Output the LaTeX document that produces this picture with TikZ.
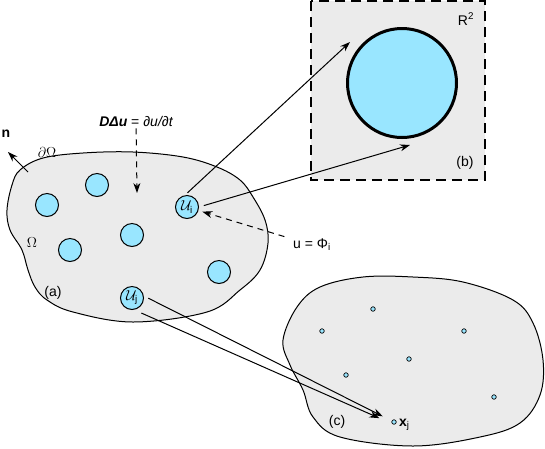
\documentclass[tikz,border=0pt]{standalone}
\usepackage{fontspec}
\setmainfont{Liberation Sans}
\usepackage{amsmath}
\usetikzlibrary{arrows.meta}
\definecolor{regiongray}{RGB}{235,235,235}
\definecolor{cellblue}{RGB}{153,230,255}
\tikzstyle{region} = [draw=black, line width=1pt, fill=regiongray]
\tikzstyle{cell} = [circle, minimum size=23pt, inner sep=0pt, draw=black,
line width=1pt, fill=cellblue, font=\fontsize{14}{16}\selectfont]
\tikzstyle{spot} = [circle, minimum size=4.5pt, inner sep=0pt, draw=black,
line width=0.7pt, fill=cellblue]
\tikzstyle{txt} = [inner sep=1pt, font=\fontsize{14}{16}\selectfont]
\tikzstyle{arrow} = [line width=1pt,->,>={Stealth[length=10pt,width=7pt]}]
\tikzstyle{dasharrow} = [arrow, dash pattern=on 6pt off 5pt]

\begin{document}
\begin{tikzpicture}[x=1pt,y=-1pt]
  \useasboundingbox (0,0) rectangle (545,448);
  % domain (a)
  \draw[region] plot[smooth cycle, tension=0.6] coordinates {
    (20,170) (43,158) (83,153) (133,152) (183,157) (217,167) (240,180)
    (253,197) (265,220) (268,243) (260,270) (240,290) (207,312) (133,322)
    (73,312) (47,300) (35,287) (28,270) (22,250) (10,230) (7,210) (12,185)};
  % domain (c)
  \draw[region] plot[smooth cycle, tension=0.6] coordinates {
    (297,307) (320,287) (363,277) (413,277) (463,282) (513,300) (533,323)
    (543,360) (540,395) (520,423) (480,437) (413,446) (340,437) (313,417)
    (303,390) (290,365) (283,340)};
  % box (b)
  \draw[line width=1.3pt, dash pattern=on 10pt off 6pt, fill=regiongray]
    (311,1) rectangle (485,180);
  \node (big) [circle, minimum size=109pt, draw, line width=3pt,
    fill=cellblue] at (402,83) {};
  \node (R2) [txt] at (466,19) {R\textsuperscript{2}};
  \node (lb) [txt] at (465,163) {(b)};

  % cells in (a)
  \node (c1) [cell] at (97,185) {};
  \node (c2) [cell] at (47,205) {};
  \node (c3) [cell] at (132,235) {};
  \node (c4) [cell] at (70,250) {};
  \node (c5) [cell] at (219,272) {};
  \node (Ui) [cell] at (187,207) {$\mathcal{U}_{\text{i}}$};
  \node (Uj) [cell] at (132,298) {$\mathcal{U}_{\text{j}}$};
  \node (om) [txt] at (32,243) {$\Omega$};
  \node (dom) [txt] at (47,152) {$\partial\Omega$};
  \node (la) [txt] at (53,293) {(a)};
  \node (n) [txt] at (6,134) {\bfseries n};
  \coordinate (nbase) at (28,172);
  \coordinate (ntip) at (8,152);

  % points in (c)
  \node (p1) [spot] at (373,309) {};
  \node (p2) [spot] at (322,331) {};
  \node (p3) [spot] at (464,331) {};
  \node (p4) [spot] at (409,359) {};
  \node (p5) [spot] at (346,375) {};
  \node (p6) [spot] at (494,397) {};
  \node (xj) [spot] at (394,422) {};
  \node (xjlab) [txt, anchor=west] at (398,425) {\textbf{x}\textsubscript{j}};
  \node (lc) [txt] at (337,422) {(c)};

  \node (pde) [txt] at (136,122) {{\bfseries\itshape DΔu} = {\itshape ∂u/∂t}};
  \coordinate (pdetip) at (137,193);
  \node (uphi) [txt] at (312,245) {u = Φ\textsubscript{i}};
  \coordinate (b1) at (350,42);
  \coordinate (b2) at (410,145);

  \draw [arrow] (nbase) -- (ntip);
  \draw [dasharrow] (pde) -- (pdetip);
  \draw [dasharrow, shorten <=8pt, shorten >=4pt] (uphi) -- (Ui);
  \draw [arrow, shorten <=3.5pt] (Ui.100) -- (b1);
  \draw [arrow, shorten <=5pt] (Ui.0) -- (b2);
  \draw [arrow, shorten <=5pt, shorten >=10pt] (Uj.10) -- (xj);
  \draw [arrow, shorten <=8pt, shorten >=16pt] (Uj.-80) -- (xj.south);
\end{tikzpicture}
\end{document}
